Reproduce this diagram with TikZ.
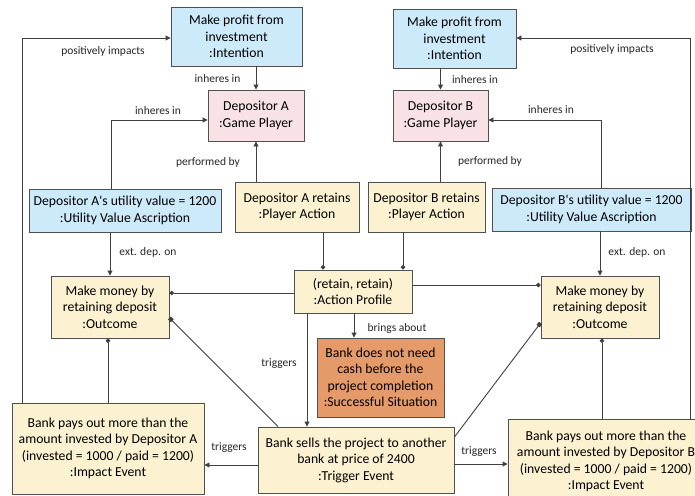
\documentclass[tikz,border=0pt]{standalone}
\usepackage{fontspec}
\setmainfont{Carlito}
\usetikzlibrary{arrows.meta}
\definecolor{bluefill}{RGB}{205,234,250}
\definecolor{pinkfill}{RGB}{248,226,229}
\definecolor{yellowfill}{RGB}{252,241,208}
\definecolor{orangefill}{RGB}{229,154,106}
\definecolor{linec}{RGB}{64,64,64}
\definecolor{borderc}{RGB}{80,80,80}
\tikzset{
  box/.style={draw=borderc, line width=0.9pt, align=center, inner sep=0pt,
    font=\fontsize{13.7}{16.5}\selectfont, text=black},
  bluebox/.style={box, fill=bluefill},
  pinkbox/.style={box, fill=pinkfill},
  yellowbox/.style={box, fill=yellowfill},
  orangebox/.style={box, fill=orangefill},
  conn/.style={draw=linec, line width=0.9pt},
  arr/.style={conn, -{Triangle[length=5pt,width=5pt]}},
  dotend/.style={conn, -{Circle[length=4.5pt,width=4.5pt]}},
  sqend/.style={conn, -{Square[length=4pt,width=4pt]}},
  lbl/.style={font=\fontsize{11.5}{13}\selectfont, text=black!85, inner sep=0pt}
}
\begin{document}
\begin{tikzpicture}[x=1pt,y=-1pt]
\useasboundingbox (0,0) rectangle (695,495);
\clip (0,0) rectangle (695,495);
\fill[white] (0,0) rectangle (695,495);

% nodes
\node[bluebox, minimum width=131pt, minimum height=59pt] (intA) at (236.5,36.5) {Make profit from\\investment\\:Intention};
\node[pinkbox, minimum width=96pt, minimum height=51pt] (depA) at (256,115.5) {Depositor A\\:Game Player};
\node[bluebox, minimum width=123pt, minimum height=59pt] (intB) at (454.5,38.5) {Make profit from\\investment\\:Intention};
\node[pinkbox, minimum width=95pt, minimum height=51pt] (depB) at (440.5,115.5) {Depositor B\\:Game Player};
\node[bluebox, minimum width=192pt, minimum height=43pt] (utilA) at (125,210.5) {Depositor A\textquotesingle s utility value = 1200\\:Utility Value Ascription};
\node[yellowbox, minimum width=124pt, minimum height=50pt] (actA) at (297,207) {Depositor A retains\\:Player Action};
\node[yellowbox, minimum width=117pt, minimum height=50pt] (actB) at (426.5,207) {Depositor B retains\\:Player Action};
\node[bluebox, minimum width=199pt, minimum height=43pt] (utilB) at (591.5,209.5) {Depositor B\textquotesingle s utility value = 1200\\:Utility Value Ascription};
\node[yellowbox, minimum width=118pt, minimum height=62pt] (outA) at (110,307) {Make money by\\retaining deposit\\:Outcome};
\node[yellowbox, minimum width=118pt, minimum height=43pt] (ap) at (353,291.5) {(retain, retain)\\:Action Profile};
\node[yellowbox, minimum width=118pt, minimum height=62pt] (outB) at (600,307) {Make money by\\retaining deposit\\:Outcome};
\node[orangebox, minimum width=127pt, minimum height=79pt] (succ) at (380.5,377.5) {Bank does not need\\cash before the\\project completion\\:Successful Situation};
\node[yellowbox, minimum width=196pt, minimum height=66pt] (trig) at (356,460) {Bank sells the project to another\\bank at price of 2400\\:Trigger Event};
\node[yellowbox, minimum width=192pt, minimum height=91pt] (impA) at (108,448.5) {Bank pays out more than the\\amount invested by Depositor A\\(invested = 1000 / paid = 1200)\\:Impact Event};
\node[yellowbox, minimum width=196pt, minimum height=85pt] (impB) at (606,461.5) {Bank pays out more than the\\amount invested by Depositor B\\(invested = 1000 / paid = 1200)\\:Impact Event};

% connectors
\draw[arr] (impA.north -| 22,0) |- (intA.west |- 0,38);
\draw[arr] (intA.south -| depA.north) -- (depA.north);
\draw[arr] (utilA.north -| 111,0) |- (depA.west |- 0,120);
\draw[arr] (actA.north -| depA.south) -- (depA.south);
\draw[arr] (utilA.south -| outA.north) -- (outA.north);
\draw[dotend] (actA.south -| 323,0) -- (ap.north -| 323,0);
\draw[dotend] (ap.west |- 0,293) -- (outA.east |- 0,293);
\draw[dotend] (actB.south -| 403,0) -- (ap.north -| 403,0);
\draw[dotend] (ap.east |- 0,285) -- (outB.west |- 0,285);
\draw[arr] (utilB.south -| outB.north) -- (outB.north);
\draw[arr] (utilB.north -| 601,0) |- (depB.east |- 0,120);
\draw[arr] (intB.south -| depB.north) -- (depB.north);
\draw[arr] (actB.north -| depB.south) -- (depB.south);
\draw[arr] (impB.north -| 690,0) |- (intB.east |- 0,38);
\draw[arr] (ap.south -| 354,0) -- (succ.north -| 354,0);
\draw[arr] (ap.south -| 307,0) -- (trig.north -| 307,0);
\draw[sqend] (trig.north -| 278,0) -- (outA.east |- 0,318);
\draw[sqend] (trig.east |- 0,437) -- (outB.west |- 0,323);
\draw[arr] (trig.west |- 0,465) -- (impA.east |- 0,465);
\draw[arr] (trig.east |- 0,464) -- (impB.west |- 0,464);
\draw[dotend] (impA.north -| 108,0) -- (outA.south -| 108,0);
\draw[dotend] (impB.north -| 602,0) -- (outB.south -| 602,0);

% labels
\node[lbl] (l1) at (103,51) {positively impacts};
\node[lbl] (l2) at (217.5,79) {inheres in};
\node[lbl] (l3) at (158,111) {inheres in};
\node[lbl] (l4) at (208,162) {performed by};
\node[lbl] (l5) at (148,252) {ext. dep. on};
\node[lbl] (l6) at (612,49) {positively impacts};
\node[lbl] (l7) at (475,80) {inheres in};
\node[lbl] (l8) at (551,110) {inheres in};
\node[lbl] (l9) at (490,161) {performed by};
\node[lbl] (l10) at (637,252) {ext. dep. on};
\node[lbl] (l11) at (397,328) {brings about};
\node[lbl] (l12) at (279,364) {triggers};
\node[lbl] (l13) at (229,448) {triggers};
\node[lbl] (l14) at (479,452) {triggers};
\end{tikzpicture}
\end{document}
